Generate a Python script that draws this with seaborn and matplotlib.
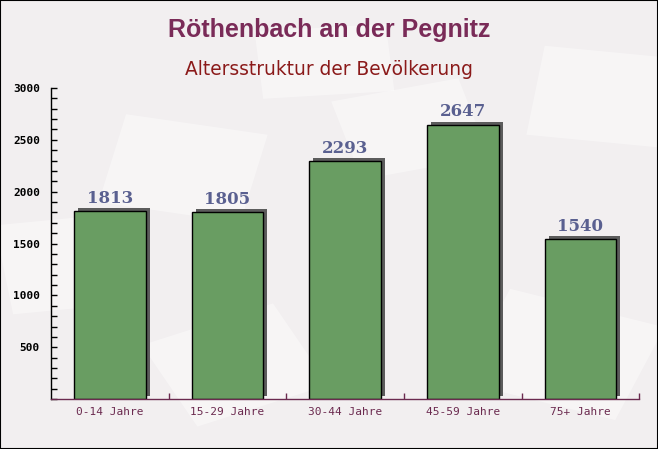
import matplotlib
matplotlib.use("Agg")
import matplotlib.pyplot as plt
import matplotlib.transforms as mtransforms
from matplotlib.patches import Rectangle
from matplotlib.ticker import MultipleLocator, FixedLocator
import seaborn as sns

# Data
categories = ["0-14 Jahre", "15-29 Jahre", "30-44 Jahre", "45-59 Jahre", "75+ Jahre"]
values = [1813, 1805, 2293, 2647, 1540]
title = "Röthenbach an der Pegnitz"
subtitle = "Altersstruktur der Bevölkerung"

sns.set_theme(style="white")
plt.rcParams['font.family'] = ['DejaVu Sans']

bg = "#f2eff0"
fig = plt.figure(figsize=(6.58, 4.49), dpi=100, facecolor=bg)
ax = fig.add_axes([0.0775, 0.111, 0.894, 0.693])
ax.patch.set_alpha(0)

# faint background texture (tilted sheets), behind the axes
for (x0, y0, w, h, ang) in [(0.15, 0.55, 0.22, 0.2, -12), (0.55, 0.6, 0.2, 0.18, 15),
                            (0.7, 0.15, 0.25, 0.22, -20), (0.3, 0.05, 0.22, 0.2, 25),
                            (0.02, 0.3, 0.15, 0.2, 8), (0.8, 0.7, 0.2, 0.2, -8),
                            (0.4, 0.78, 0.2, 0.15, 5)]:
    fig.patches.append(Rectangle((x0, y0), w, h, angle=ang, transform=fig.transFigure,
                                 facecolor="white", alpha=0.4, edgecolor="none", zorder=-5))

# shadow bars, shifted up and right by a few pixels
sns.barplot(x=categories, y=values, color="#5c5c5c", width=0.61, ax=ax,
            saturation=1, edgecolor="none")
shift = mtransforms.ScaledTranslation(4 / 100, 3 / 100, fig.dpi_scale_trans)
for p in ax.patches:
    p.set_transform(ax.transData + shift)
    p.set_zorder(1)
n_shadow = len(ax.patches)

sns.barplot(x=categories, y=values, color="#699d62", width=0.61, ax=ax,
            saturation=1, edgecolor="black", linewidth=1)
for p in ax.patches[n_shadow:]:
    p.set_zorder(2)

for i, v in enumerate(values):
    ax.annotate(str(v), (i, v), xytext=(0, 3), textcoords="offset points",
                ha="center", va="bottom", fontsize=12, fontweight="bold",
                family="DejaVu Serif", color="#5a6090", zorder=3)

ax.set_xlim(-0.5, 4.5)
ax.set_ylim(0, 3000)
ax.set_xlabel("")
ax.set_ylabel("")

ax.yaxis.set_minor_locator(MultipleLocator(100))
ax.set_yticks([500, 1000, 1500, 2000, 2500, 3000])
ax.tick_params(axis="y", which="both", direction="in", length=4, width=1,
               color="black", left=True, pad=8)
ax.tick_params(axis="y", labelsize=8, labelcolor="black")
for lab in ax.get_yticklabels():
    lab.set_family("DejaVu Sans Mono")
    lab.set_fontweight("bold")

ax.xaxis.set_minor_locator(FixedLocator([0.5, 1.5, 2.5, 3.5, 4.5]))
ax.tick_params(axis="x", which="major", length=0, pad=6, labelsize=8,
               labelcolor="#6b2a4f")
ax.tick_params(axis="x", which="minor", direction="in", length=4, width=1,
               color="#6b2a4f", bottom=True)
for lab in ax.get_xticklabels():
    lab.set_family("DejaVu Sans Mono")

sns.despine(ax=ax, top=True, right=True)
ax.spines["left"].set_color("black")
ax.spines["bottom"].set_color("#6b2a4f")
ax.spines["left"].set_linewidth(1)
ax.spines["bottom"].set_linewidth(1)

fig.text(0.5, 0.933, title, ha="center", va="center", fontsize=18,
         fontweight="bold", color="#7a2b58", family="Liberation Sans")
fig.text(0.5, 0.845, subtitle, ha="center", va="center", fontsize=13.4,
         color="#8b1a1a")

fig.patches.append(Rectangle((0, 0), 1, 1, transform=fig.transFigure, fill=False,
                             edgecolor="black", linewidth=1.5, zorder=10))

fig.savefig("out.png", dpi=100, facecolor=bg)
